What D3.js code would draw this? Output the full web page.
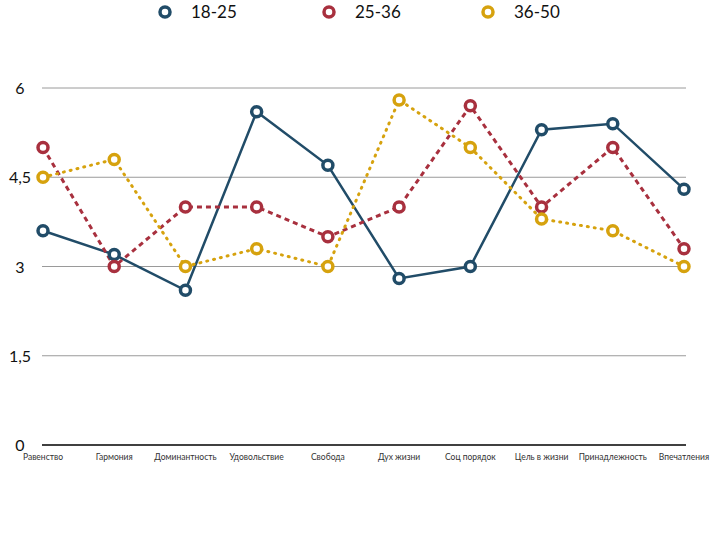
<!DOCTYPE html>
<html>
<head>
<meta charset="utf-8">
<script src="https://cdn.jsdelivr.net/npm/d3@7"></script>
<style>
  body { margin: 0; background: #fff; }
  text { font-family: Lato, "Open Sans", sans-serif; }
</style>
</head>
<body>
<div id="chart"></div>
<script>
var categories = ['Равенство', 'Гармония', 'Доминантность', 'Удовольствие', 'Свобода',
                  'Дух жизни', 'Соц порядок', 'Цель в жизни', 'Принадлежность', 'Впечатления']
var seriesNames = ['18-25', '25-36', '36-50']
var young  = [3.6, 3.2, 2.6, 5.6, 4.7, 2.8, 3.0, 5.3, 5.4, 4.3]
var middle = [5.0, 3.0, 4.0, 4.0, 3.5, 4.0, 5.7, 4.0, 5.0, 3.3]
var older  = [4.5, 4.8, 3.0, 3.3, 3.0, 5.8, 5.0, 3.8, 3.6, 3.0]
var yTicks = [0, 1.5, 3, 4.5, 6]

var w = 720
  , h = 540
  , colors = ['#214c68', '#a8303e', '#d6a20e']
  , dashes = [null, '5,4', '1,6']

var series = [young, middle, older].map(function (v, i) {
  return { name: seriesNames[i], values: v, color: colors[i], dash: dashes[i] }
})

var svg = d3.select('#chart').append('svg').attr('width', w).attr('height', h)

var x = d3.scalePoint().domain(categories).range([43, 684])
var y = d3.scaleLinear().domain([0, 6]).range([445, 88])

// grid
svg.selectAll('.grid').data(yTicks.filter(function (d) { return d > 0 }))
  .enter().append('line')
  .attr('x1', 42).attr('x2', 686)
  .attr('y1', y).attr('y2', y)
  .attr('stroke', '#9a9a9a').attr('stroke-width', 1)

svg.append('line')
  .attr('x1', 42).attr('x2', 686)
  .attr('y1', y(0)).attr('y2', y(0))
  .attr('stroke', '#000').attr('stroke-width', 1.5)

svg.selectAll('.ytick').data(yTicks)
  .enter().append('text')
  .attr('x', 20).attr('y', function (d) { return y(d) + 6 })
  .attr('text-anchor', 'middle')
  .attr('font-size', 16).attr('fill', '#111')
  .text(function (d) { return String(d).replace('.', ',') })

svg.selectAll('.xtick').data(categories)
  .enter().append('text')
  .attr('x', function (d) { return x(d) }).attr('y', 460)
  .attr('text-anchor', 'middle')
  .attr('font-size', 8.5).attr('fill', '#333')
  .text(function (d) { return d })

var line = d3.line()
  .x(function (d, i) { return x(categories[i]) })
  .y(function (d) { return y(d) })

series.forEach(function (s) {
  svg.append('path')
    .attr('d', line(s.values))
    .attr('fill', 'none')
    .attr('stroke', s.color)
    .attr('stroke-width', s.dash ? 3 : 2.5)
    .attr('stroke-linecap', s.dash === '1,6' ? 'round' : 'butt')
    .attr('stroke-dasharray', s.dash)
})

series.forEach(function (s) {
  svg.selectAll(null).data(s.values)
    .enter().append('circle')
    .attr('cx', function (d, i) { return x(categories[i]) })
    .attr('cy', y)
    .attr('r', 5)
    .attr('fill', '#fff')
    .attr('stroke', s.color)
    .attr('stroke-width', 3.5)
})

// legend
var lx = [165, 329, 488]
var legend = svg.selectAll('.legend').data(series)
  .enter().append('g')
  .attr('transform', function (d, i) { return 'translate(' + lx[i] + ',12)' })

legend.append('circle')
  .attr('r', 5).attr('fill', '#fff')
  .attr('stroke', function (d) { return d.color }).attr('stroke-width', 3.5)

legend.append('text')
  .attr('x', 26).attr('y', 6)
  .attr('font-size', 17).attr('fill', '#111')
  .text(function (d) { return d.name })
</script>
</body>
</html>
